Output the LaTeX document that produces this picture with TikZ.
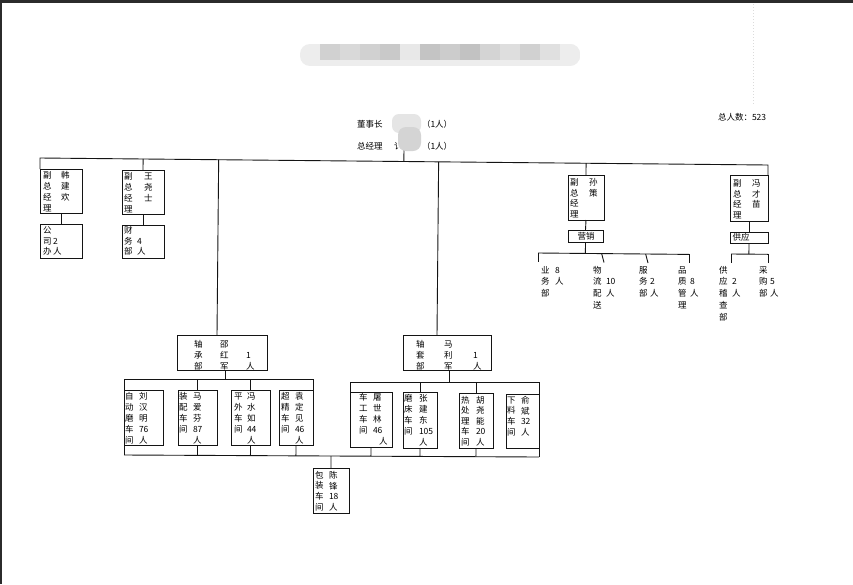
\documentclass[tikz,border=0pt]{standalone}
\usepackage{fontspec}
\newfontfamily\cjk{Noto Sans CJK SC}
\usetikzlibrary{calc}
\tikzset{
  bx/.style={draw=black!92, line width=0.9pt, inner sep=0pt, outer sep=0pt, anchor=center},
  ln/.style={draw=black!92, line width=0.9pt},
  col/.style={anchor=north west, inner sep=0pt, outer sep=0pt, align=left, text=black, font=\cjk\fontsize{8.5}{#1}\selectfont},
  col/.default=11,
  lbl/.style={inner sep=0pt, outer sep=0pt, text=black, font=\cjk\fontsize{8.5}{10}\selectfont}
}
\newcommand\bx[5]{\node[bx, minimum width={(#4-#2)*1pt}, minimum height={(#5-#3)*1pt}] (#1) at ({(#2+#4)/2},{(#3+#5)/2}) {};}
\newcommand\ct[5][11]{\node[col=#1] (#2) at (#3,{#4-3.9}) {\vphantom{人}#5};}
\begin{document}
\begin{tikzpicture}[x=1pt,y=-1pt]
\useasboundingbox (0,0) rectangle (853,584);
\fill[white] (0,0) rectangle (853,584);
\fill[black!83] (0,0) rectangle (853,3);
\fill[black!83] (0,0) rectangle (1.5,584);
% faint scan line
\draw[black!14, line width=0.4pt, dash pattern=on 1pt off 2pt] (753,4) -- (753,105);
% blurred title
\begin{scope}
\clip[rounded corners=10pt] (300,44) rectangle (580,66);
\fill[black!7] (300,44) rectangle (580,66);
\foreach \i/\g in {0/18,1/15,2/18,3/21,4/9,5/23,6/20,7/24,8/17,9/13,10/18,11/12,12/7}
  \fill[black!\g] ({320+20*\i},44) rectangle ({340+20*\i},60);
\end{scope}
% boxes
\bx{han}{40}{169}{82}{213}
\bx{gsb}{40}{224}{82}{258}
\bx{wang}{122}{170}{164}{214}
\bx{cwb}{122}{225}{164}{258}
\bx{sun}{568}{175}{604}{220}
\bx{yx}{568}{230}{603}{242}
\bx{feng}{730}{175}{768}{221}
\bx{gy}{730}{232}{768}{243}
\bx{zcb}{177}{335}{267}{370}
\bx{ztb}{403}{335}{491}{370}
\bx{zdm}{124}{390}{163}{445}
\bx{zp}{178}{390}{217}{445}
\bx{pw}{231}{390}{270}{445}
\bx{cj}{279}{390}{313}{445}
\bx{cg}{350}{392}{392}{447}
\bx{mc}{403}{392}{437}{448}
\bx{rcl}{459}{393}{493}{448}
\bx{xl}{506}{394}{539}{448}
\bx{bz}{313}{468}{349}{513}
% top texts
\node[lbl, anchor=west] (dsz) at (357,124) {董事长};
\node[lbl, anchor=west] (dszn) at (422,124) {（1人）};
\node[lbl, anchor=west] (zjl) at (357,146.5) {总经理};
\node[lbl, anchor=west] (zjlx) at (394,146.5) {讠};
\node[lbl, anchor=west] (zjln) at (422,146.5) {（1人）};
\node[lbl, anchor=west] (zrs) at (718,117) {总人数：523};
% top bus
\coordinate (tbL) at (40,158);
\coordinate (tbR) at (768,165);
\coordinate (gm) at (404,149);
\coordinate (zcbIn) at ($(zcb.north west)+(40,0)$);
\coordinate (ztbIn) at ($(ztb.north west)+(34,0)$);
\draw[ln] (han.north west) -- (tbL) -- (tbR) -- (feng.north east);
\draw[ln] (gm) -- ($(tbL)!(gm)!(tbR)$);
\draw[ln] ($(tbL)!(wang.north)!(tbR)$) -- (wang.north);
\draw[ln] ($(tbL)!(zcbIn)!(tbR)$) -- (zcbIn);
\draw[ln] ($(tbL)!(ztbIn)!(tbR)$) -- (ztbIn);
\draw[ln] ($(tbL)!(sun.north)!(tbR)$) -- (sun.north);
\draw[ln] (han.south) -- (gsb.north);
\draw[ln] (wang.south) -- (cwb.north);
% marketing
\draw[ln] (sun.south) -- (yx.north);
\coordinate (sbL) at (538,253);
\coordinate (sbR) at (689,254.4);
\coordinate (s2) at (604,0);
\coordinate (s3) at (648,0);
\draw[ln] (yx.south) -- ($(sbL)!(yx.south)!(sbR)$);
\draw[ln] (sbL) -- (sbR);
\coordinate (d1) at (538,262);
\coordinate (d2) at (604,262.5);
\coordinate (d3) at (648,263);
\coordinate (d4) at (689,263.4);
\draw[ln] (sbL) -- (d1);
\draw[ln] ($(sbL)!(s2)!(sbR)$) -- (d2);
\draw[ln] ($(sbL)!(s3)!(sbR)$) -- (d3);
\draw[ln] (sbR) -- (d4);
% supply
\draw[ln] (feng.south) -- (gy.north);
\coordinate (fbL) at (731,254);
\coordinate (fbR) at (768,254.3);
\draw[ln] (gy.south) -- ($(fbL)!(gy.south)!(fbR)$);
\draw[ln] (fbL) -- (fbR);
\coordinate (e1) at (731,263);
\coordinate (e2) at (768,263.3);
\draw[ln] (fbL) -- (e1);
\draw[ln] (fbR) -- (e2);
% left bracket
\coordinate (lbL) at (124,379);
\coordinate (lbR) at (313,379);
\coordinate (bbL) at (124,455);
\coordinate (bbR) at (539,457);
\coordinate (zcbOut) at ($(zcb.south west)+(48,0)$);
\draw[ln] (zcbOut) -- (zcbOut |- lbL);
\draw[ln] (bbL) -- (lbL) -- (lbR) -- (cj.north east);
\draw[ln] (zp.north |- lbL) -- (zp.north);
\draw[ln] (pw.north |- lbL) -- (pw.north);
% right bracket
\coordinate (rbL) at (350,382);
\coordinate (rbR) at (539,382);
\coordinate (ztbOut) at ($(ztb.south west)+(46,0)$);
\draw[ln] (ztbOut) -- (ztbOut |- rbL);
\draw[ln] (cg.north west) -- (rbL) -- (rbR) -- (bbR);
\draw[ln] (mc.north |- rbL) -- (mc.north);
\draw[ln] (rcl.north |- rbL) -- (rcl.north);
% bottom bus
\draw[ln] (bbL) -- (bbR);
\foreach \n in {zp,pw,cj,cg,mc,rcl}
  \draw[ln] (\n.south) -- ($(bbL)!(\n.south)!(bbR)$);
\draw[ln] ($(bbL)!(bz.north)!(bbR)$) -- (bz.north);
% box texts
\ct{hanA}{43}{175}{副\\总\\经\\理}
\ct{hanB}{61}{175}{韩\\建\\欢}
\ct[10.8]{gsbA}{43}{230}{公\\司\\办}
\ct[10.8]{gsbB}{53}{230}{\\2\\人}
\ct{wangA}{124}{176}{副\\总\\经\\理}
\ct{wangB}{144}{176}{王\\尧\\士}
\ct[10.8]{cwbA}{124}{230}{财\\务\\部}
\ct[10.8]{cwbB}{137}{230}{\\4\\人}
\ct[10.8]{sunA}{570}{182}{副\\总\\经\\理}
\ct[10.8]{sunB}{589}{182}{孙\\策}
\node[lbl] (yxT) at (586,236) {营销};
\ct[10.8]{fengA}{733}{183}{副\\总\\经\\理}
\ct[10.8]{fengB}{752}{183}{冯\\才\\苗}
\node[lbl] (gyT) at (741,237.5) {供应};
\ct[11.7]{ywA}{541}{270}{业\\务\\部}
\ct[11.7]{ywB}{555}{270}{8\\人}
\ct[11.7]{wlA}{593}{270}{物\\流\\配\\送}
\ct[11.7]{wlB}{606}{270}{\\10\\人}
\ct[11.7]{fwA}{639}{270}{服\\务\\部}
\ct[11.7]{fwB}{650}{270}{\\2\\人}
\ct[11.7]{pzA}{678}{270}{品\\质\\管\\理}
\ct[11.7]{pzB}{690}{270}{\\8\\人}
\ct[11.7]{gycA}{719}{270}{供\\应\\稽\\查\\部}
\ct[11.7]{gycB}{732}{270}{\\2\\人}
\ct[11.7]{caiA}{759}{270}{采\\购\\部}
\ct[11.7]{caiB}{770}{270}{\\5\\人}
\ct{zcbA}{194}{344}{轴\\承\\部}
\ct{zcbB}{220}{344}{邵\\红\\军}
\ct{zcbC}{246}{344}{\\1\\人}
\ct{ztbA}{416}{344}{轴\\套\\部}
\ct{ztbB}{444}{344}{马\\利\\军}
\ct{ztbC}{473}{344}{\\1\\人}
\ct{zdmA}{125}{396}{自\\动\\磨\\车\\间}
\ct{zdmB}{139}{396}{刘\\汉\\明\\76\\人}
\ct{zpA}{179}{396}{装\\配\\车\\间}
\ct{zpB}{193}{396}{马\\爱\\芬\\87\\人}
\ct{pwA}{234}{396}{平\\外\\车\\间}
\ct{pwB}{247}{396}{冯\\水\\如\\44\\人}
\ct{cjA}{281}{396}{超\\精\\车\\间}
\ct{cjB}{295}{396}{袁\\定\\见\\46\\人}
\ct{cgA}{359}{397}{车\\工\\车\\间}
\ct{cgB}{373}{397}{屠\\世\\林\\46\\\hspace*{6pt}人}
\ct{mcA}{404}{398}{磨\\床\\车\\间}
\ct{mcB}{419}{398}{张\\建\\东\\105\\人}
\ct[10.5]{rclA}{461}{400}{热\\处\\理\\车\\间}
\ct[10.5]{rclB}{476}{400}{胡\\尧\\能\\20\\人}
\ct[10.7]{xlA}{507}{400}{下\\料\\车\\间}
\ct[10.7]{xlB}{521}{400}{俞\\斌\\32\\人}
\ct[10.7]{bzA}{315}{475}{包\\装\\车\\间}
\ct[10.7]{bzB}{329}{475}{陈\\锋\\18\\人}
% redaction blobs
\fill[black!10, rounded corners=7pt] (392,114) rectangle (421,133);
\fill[black!17, rounded corners=8pt] (398,127) rectangle (421,151);
\end{tikzpicture}
\end{document}
